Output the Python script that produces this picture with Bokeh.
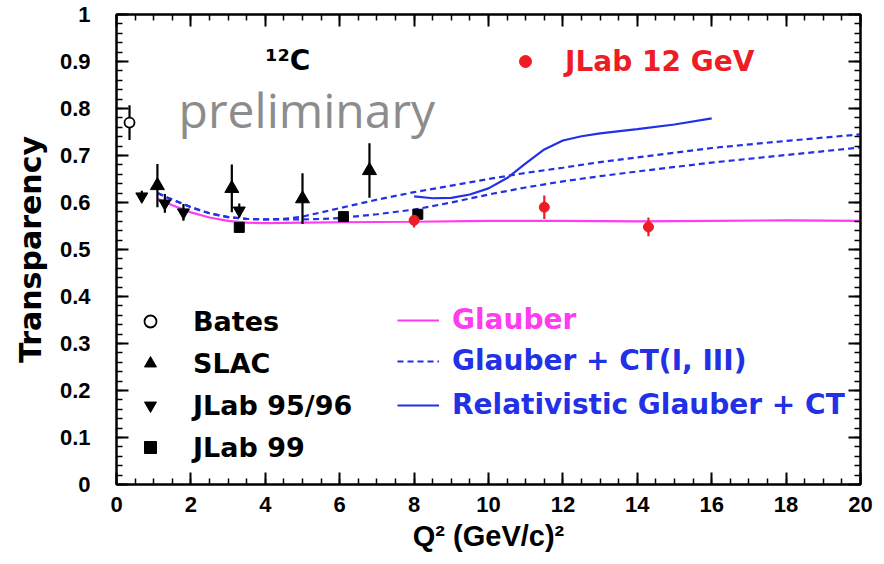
from bokeh.plotting import figure
from bokeh.models import Range1d, LinearAxis, FixedTicker, Legend, LegendItem, Label
from bokeh.embed import file_html
from bokeh.resources import INLINE

# ---------------- data ----------------
bates_q2 = [0.35]
bates_t = [0.770]
bates_err = [0.037]

slac_q2 = [1.1, 3.1, 5.0, 6.8]
slac_t = [0.636, 0.630, 0.608, 0.668]
slac_err = [0.046, 0.051, 0.054, 0.058]

jlab9596_q2 = [0.68, 1.3, 1.8, 3.3]
jlab9596_t = [0.613, 0.598, 0.579, 0.583]
jlab9596_err = [0.012, 0.020, 0.018, 0.015]

jlab99_q2 = [3.3, 6.1, 8.1]
jlab99_t = [0.547, 0.570, 0.575]
jlab99_err = [0.010, 0.010, 0.010]

jlab12_q2 = [8.0, 11.5, 14.3]
jlab12_t = [0.562, 0.590, 0.548]
jlab12_err = [0.015, 0.025, 0.020]

glauber_q2 = [1.1, 1.5, 2.0, 2.5, 3.0, 3.5, 4.0, 5.0, 6.0, 8.0, 10.0, 12.0, 14.0, 16.0, 18.0, 20.0]
glauber_t = [0.608, 0.594, 0.579, 0.568, 0.561, 0.557, 0.556, 0.557, 0.558, 0.559, 0.561, 0.561, 0.560, 0.561, 0.562, 0.561]

ct1_q2 = [1.1, 1.5, 2.0, 2.5, 3.0, 3.5, 4.0, 4.5, 5.0, 6.0, 7.0, 8.0, 9.0, 10.0, 11.0, 12.0, 13.0, 14.0, 16.0, 18.0, 20.0]
ct1_t = [0.620, 0.606, 0.590, 0.577, 0.569, 0.565, 0.564, 0.565, 0.570, 0.588, 0.606, 0.622, 0.636, 0.650, 0.663, 0.674, 0.686, 0.696, 0.716, 0.731, 0.745]

ct3_q2 = [1.1, 1.5, 2.0, 2.5, 3.0, 3.5, 4.0, 4.5, 5.0, 5.5, 6.0, 7.0, 8.0, 9.0, 10.0, 11.0, 12.0, 13.0, 14.0, 16.0, 18.0, 20.0]
ct3_t = [0.620, 0.606, 0.590, 0.577, 0.569, 0.565, 0.564, 0.564, 0.564, 0.565, 0.567, 0.575, 0.585, 0.600, 0.617, 0.632, 0.645, 0.656, 0.666, 0.685, 0.701, 0.717]

rel_q2 = [8.0, 8.5, 9.0, 9.5, 10.0, 10.5, 11.0, 11.5, 12.0, 12.5, 13.0, 14.0, 15.0, 16.0]
rel_t = [0.613, 0.609, 0.610, 0.617, 0.630, 0.652, 0.683, 0.713, 0.732, 0.741, 0.747, 0.756, 0.766, 0.779]

x_ticks = [0, 2, 4, 6, 8, 10, 12, 14, 16, 18, 20]
y_ticks = [0.0, 0.1, 0.2, 0.3, 0.4, 0.5, 0.6, 0.7, 0.8, 0.9, 1.0]
y_tick_labels = ["0", "0.1", "0.2", "0.3", "0.4", "0.5", "0.6", "0.7", "0.8", "0.9", "1"]

# ---------------- style ----------------
MAGENTA = "#ff3cf0"
BLUE = "#2230e6"
RED = "#ee1c24"
BOLD_FONT = "DejaVu Sans"
AX_FONT = "Liberation Sans"

p = figure(width=884, height=564, output_backend="svg", toolbar_location=None,
           x_range=Range1d(0, 20), y_range=Range1d(0, 1),
           min_border_left=116, min_border_right=24, min_border_top=14, min_border_bottom=80,
           background_fill_color="white", border_fill_color="white")
p.grid.visible = False
p.outline_line_color = "black"
p.outline_line_width = 2

x_minor = [i * 0.5 for i in range(41)]
y_minor = [round(i * 0.02, 2) for i in range(51)]


def style_axis(ax, ticker, labels=True):
    ax.ticker = ticker
    ax.axis_line_width = 2
    ax.axis_line_color = "black"
    ax.major_tick_in = 12
    ax.major_tick_out = 0
    ax.minor_tick_in = 6
    ax.minor_tick_out = 0
    ax.major_tick_line_width = 2
    ax.minor_tick_line_width = 1.5
    ax.major_tick_line_color = "black"
    ax.minor_tick_line_color = "black"
    if labels:
        ax.major_label_text_font = AX_FONT
        ax.major_label_text_font_style = "bold"
        ax.major_label_text_font_size = "22px"
        ax.major_label_text_color = "black"
    else:
        ax.major_label_text_color = None
        ax.major_label_standoff = 0


xt = FixedTicker(ticks=x_ticks, minor_ticks=x_minor)
yt = FixedTicker(ticks=y_ticks, minor_ticks=y_minor)

xa = p.xaxis[0]
ya = p.yaxis[0]
style_axis(xa, xt)
style_axis(ya, yt)
xa.major_label_standoff = 12
ya.major_label_standoff = 26
ya.major_label_overrides = {t: s for t, s in zip(y_ticks, y_tick_labels)}

xa.axis_label = "Q² (GeV/c)²"
xa.axis_label_text_font = AX_FONT
xa.axis_label_text_font_style = "bold"
xa.axis_label_text_font_size = "29px"
xa.axis_label_standoff = 5
xa.axis_label_text_color = "black"

ya.axis_label = "Transparency"
ya.axis_label_text_font = BOLD_FONT
ya.axis_label_text_font_style = "bold"
ya.axis_label_text_font_size = "30px"
ya.axis_label_standoff = 9
ya.axis_label_text_color = "black"

top = LinearAxis()
style_axis(top, FixedTicker(ticks=x_ticks, minor_ticks=x_minor), labels=False)
right = LinearAxis()
style_axis(right, FixedTicker(ticks=y_ticks, minor_ticks=y_minor), labels=False)
p.add_layout(top, "above")
p.add_layout(right, "right")

# ---------------- curves ----------------
r_glauber = p.line(glauber_q2, glauber_t, line_color=MAGENTA, line_width=2.2)
r_ct1 = p.line(ct1_q2, ct1_t, line_color=BLUE, line_width=2.2, line_dash="6 4")
r_ct3 = p.line(ct3_q2, ct3_t, line_color=BLUE, line_width=2.2, line_dash="6 4")
r_rel = p.line(rel_q2, rel_t, line_color=BLUE, line_width=2.2)


# ---------------- data points ----------------
def errbars(xs, ys, es, color):
    p.segment(x0=xs, y0=[y - e for y, e in zip(ys, es)], x1=xs, y1=[y + e for y, e in zip(ys, es)],
              line_color=color, line_width=2.2)


errbars(bates_q2, bates_t, bates_err, "black")
errbars(slac_q2, slac_t, slac_err, "black")
errbars(jlab9596_q2, jlab9596_t, jlab9596_err, "black")
errbars(jlab99_q2, jlab99_t, jlab99_err, "black")
errbars(jlab12_q2, jlab12_t, jlab12_err, RED)

r_bates = p.scatter(bates_q2, bates_t, marker="circle", size=10, fill_color="white",
                    line_color="black", line_width=1.8)
r_slac = p.scatter(slac_q2, slac_t, marker="triangle", size=14, fill_color="black", line_color="black")
r_j9596 = p.scatter(jlab9596_q2, jlab9596_t, marker="inverted_triangle", size=12,
                    fill_color="black", line_color="black")
r_j99 = p.scatter(jlab99_q2, jlab99_t, marker="square", size=10, fill_color="black", line_color="black")
r_j12 = p.scatter(jlab12_q2, jlab12_t, marker="circle", size=10, fill_color=RED, line_color=RED)


# ---------------- legends ----------------
def make_legend(items, loc, color, font_size, glyph_w, standoff, item_h, spacing):
    lg = Legend(items=items, location=loc, orientation="vertical",
                label_text_font=BOLD_FONT, label_text_font_style="bold",
                label_text_font_size=font_size, label_text_color=color,
                glyph_width=glyph_w, glyph_height=item_h, label_height=item_h,
                label_standoff=standoff, spacing=spacing, padding=0, margin=0,
                border_line_alpha=0, background_fill_alpha=0)
    p.add_layout(lg, "center")
    return lg


make_legend([LegendItem(label="Bates", renderers=[r_bates]),
             LegendItem(label="SLAC", renderers=[r_slac]),
             LegendItem(label="JLab 95/96", renderers=[r_j9596]),
             LegendItem(label="JLab 99", renderers=[r_j99])],
            (19, 21), "black", "27px", 30, 28, 32, 10)

make_legend([LegendItem(label="Glauber", renderers=[r_glauber])],
            (281, 148), MAGENTA, "28px", 42, 13, 32, 11)

make_legend([LegendItem(label="Glauber + CT(I, III)", renderers=[r_ct1]),
             LegendItem(label="Relativistic Glauber + CT", renderers=[r_rel])],
            (281, 63), BLUE, "28px", 42, 13, 32, 11)

make_legend([LegendItem(label="JLab 12 GeV", renderers=[r_j12])],
            (394, 406), RED, "28px", 30, 25, 34, 0)

# ---------------- annotations ----------------
p.add_layout(Label(x=1.67, y=0.798, text="preliminary", text_font="Open Sans",
                   text_font_size="48px", text_color="#8c8c8c", text_baseline="alphabetic"))
p.add_layout(Label(x=4.0, y=0.902, text="¹²C", text_font=BOLD_FONT, text_font_style="bold",
                   text_font_size="28px", text_color="black", text_baseline="alphabetic"))

open("out.html", "w").write(file_html(p, INLINE))
